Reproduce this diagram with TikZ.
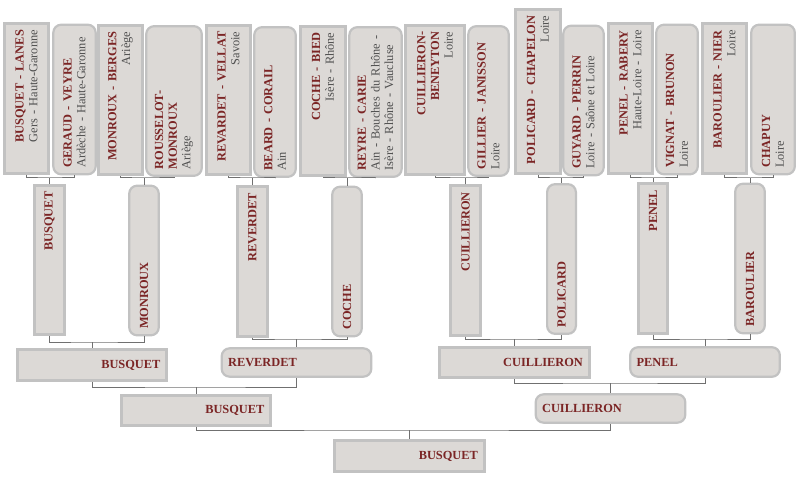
\documentclass[tikz,border=0pt]{standalone}
\usepackage{fontspec}
\setmainfont{Liberation Serif}
\usepackage{tikz}
\usetikzlibrary{calc}
\definecolor{boxfill}{RGB}{220,217,214}
\definecolor{boxline}{RGB}{194,194,194}
\definecolor{namered}{RGB}{123,37,37}
\definecolor{placegray}{RGB}{80,80,80}
\definecolor{linkgray}{RGB}{112,112,112}
\newcommand{\nm}[1]{{\bfseries\color{namered}#1}}

\begin{document}
\begin{tikzpicture}[x=0.025cm,y=-0.025cm,
  box/.style={fill=boxfill,draw=boxline,text=placegray,inner xsep=0.16cm,inner ysep=1pt,
    font=\fontsize{8.8}{9.7}\selectfont},
  sq/.style={box,line width=0.07cm,align=right},
  rd/.style={box,line width=0.055cm,rounded corners=0.2cm,align=left},
  up/.style={rotate=90},
  long/.style={minimum width=3.74cm,text width=3.42cm},
  link/.style={draw=linkgray,line width=0.025cm}]
  \useasboundingbox (0,0) rectangle (800,478);

  % Pairs
  \node[sq,up,long,minimum height=1.11cm] (t1) at (26.5,98.5) {\nm{BUSQUET - LANES}\\Gers - Haute-Garonne};
  \node[rd,up,long,minimum height=1.06cm] (t2) at (74.5,99.5) {\nm{GERAUD - VEYRE}\\Ardèche - Haute-Garonne};
  \node[sq,up,long,minimum height=1.11cm] (t3) at (120.5,100) {\nm{MONROUX - BERGES}\\Ariège};
  \node[rd,up,long,minimum height=1.39cm] (t4) at (174,101) {\nm{ROUSSELOT-}\\\nm{MONROUX}\\Ariège};
  \node[sq,up,long,minimum height=1.11cm] (t5) at (228.5,100) {\nm{REVARDET - VELLAT}\\Savoie};
  \node[rd,up,long,minimum height=1.04cm] (t6) at (275,102) {\nm{BEARD - CORAIL}\\Ain};
  \node[sq,up,long,minimum height=1.14cm] (t7) at (323,101) {\nm{COCHE - BIED}\\Isère - Rhône};
  \node[rd,up,long,minimum height=1.31cm] (t8) at (375.5,102) {\nm{REYRE - CARIE}\\Ain - Bouches du Rhône -\\Isère - Rhône - Vaucluse};
  \node[sq,up,long,minimum height=1.49cm] (t9) at (435,100) {\nm{CUILLIERON-}\\\nm{BENEYTON}\\Loire};
  \node[rd,up,long,minimum height=1.01cm] (t10) at (488.5,101) {\nm{GILLIER - JANISSON}\\Loire};
  \node[sq,up,minimum width=4.11cm,text width=3.79cm,minimum height=1.14cm] (t11) at (538,91.5) {\nm{POLICARD - CHAPELON}\\Loire};
  \node[rd,up,long,minimum height=1.01cm] (t12) at (583.5,100.5) {\nm{GUYARD - PERRIN}\\Loire - Saône et Loire};
  \node[sq,up,long,minimum height=1.11cm] (t13) at (630.5,98.5) {\nm{PENEL - RABERY}\\Haute-Loire - Loire};
  \node[rd,up,long,minimum height=1.04cm] (t14) at (677,99.5) {\nm{VIGNAT - BRUNON}\\Loire};
  \node[sq,up,long,minimum height=1.11cm] (t15) at (724.5,98.5) {\nm{BAROULIER - NIER}\\Loire};
  \node[rd,up,long,minimum height=1.09cm] (t16) at (773,99.5) {\nm{CHAPUY}\\Loire};

  % Round of 16
  \node[sq,up,long,minimum height=0.76cm] (r1) at (49.5,260) {\nm{BUSQUET}};
  \node[rd,up,long,minimum height=0.74cm] (r2) at (144,260.5) {\nm{MONROUX}};
  \node[sq,up,long,minimum height=0.76cm] (r3) at (252.5,261.5) {\nm{REVERDET}};
  \node[rd,up,long,minimum height=0.74cm] (r4) at (347,261.5) {\nm{COCHE}};
  \node[sq,up,long,minimum height=0.76cm] (r5) at (465.5,260.5) {\nm{CUILLIERON}};
  \node[rd,up,long,minimum height=0.72cm] (r6) at (561.5,259) {\nm{POLICARD}};
  \node[sq,up,long,minimum height=0.74cm] (r7) at (653,258.5) {\nm{PENEL}};
  \node[rd,up,long,minimum height=0.74cm] (r8) at (750,258.5) {\nm{BAROULIER}};

  % Quarter finals
  \node[sq,long,minimum height=0.79cm] (q1) at (92,365) {\nm{BUSQUET}};
  \node[rd,long,minimum height=0.71cm] (q2) at (296.5,362.5) {\nm{REVERDET}};
  \node[sq,long,minimum height=0.76cm] (q3) at (514.5,362.5) {\nm{CUILLIERON}};
  \node[rd,long,minimum height=0.74cm] (q4) at (705,362) {\nm{PENEL}};

  % Semi finals and final
  \node[sq,long,minimum height=0.76cm] (s1) at (196,410.5) {\nm{BUSQUET}};
  \node[rd,long,minimum height=0.71cm] (s2) at (610.5,408.5) {\nm{CUILLIERON}};
  \node[sq,long,minimum height=0.79cm] (f) at (409.5,456) {\nm{BUSQUET}};

  % Brackets
  \foreach \a/\b/\c/\l in {
    t1.west/t2.west/r1.east/178, t3.west/t4.west/r2.east/178,
    t5.west/t6.west/r3.east/178, t7.west/t8.west/r4.east/178,
    t9.west/t10.west/r5.east/178, t11.west/t12.west/r6.east/178,
    t13.west/t14.west/r7.east/178, t15.west/t16.west/r8.east/178,
    r1.west/r2.west/q1.north/342, r3.west/r4.west/q2.north/339,
    r5.west/r6.west/q3.north/339, r7.west/r8.west/q4.north/339,
    q1.south/q2.south/s1.north/387, q3.south/q4.south/s2.north/383,
    s1.south/s2.south/f.north/430}
    {\draw[link] (\a) |- (\c |- 0,\l) -| (\b) (\c) -- (\c |- 0,\l);}
\end{tikzpicture}
\end{document}
